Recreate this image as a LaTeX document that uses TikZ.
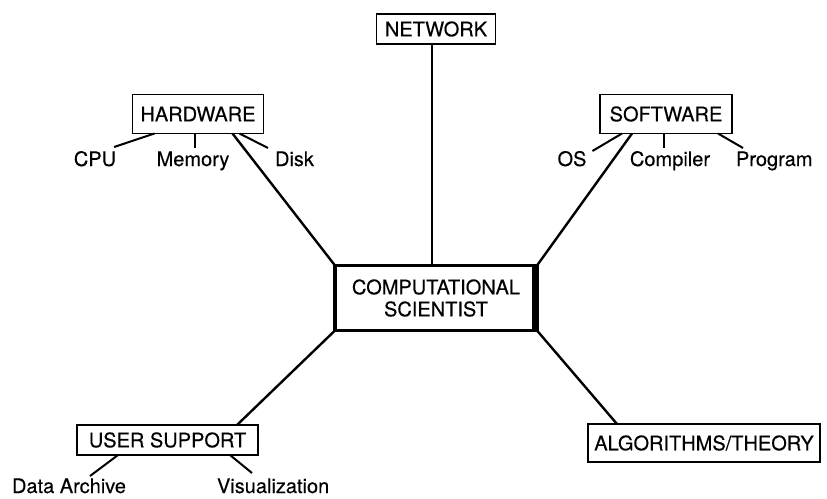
\documentclass[tikz,border=0pt]{standalone}
\usepackage{fontspec}
\setmainfont[FakeBold=0.3]{TeX Gyre Heros}
\usetikzlibrary{calc}
\tikzset{
  box/.style={draw, line width=1.6pt, inner sep=0pt, outer sep=0pt,
    font=\fontsize{20}{22}\selectfont, align=center},
  hub/.style={box, line width=3.5pt},
  lbl/.style={inner sep=0pt, outer sep=0pt, font=\fontsize{20}{22}\selectfont},
  link/.style={line width=2.4pt},
  sublink/.style={line width=2pt}
}
\begin{document}
\begin{tikzpicture}[x=1pt, y=-1pt]
\useasboundingbox (0,0) rectangle (827,498);

% boxes
\node[box, minimum width=119pt, minimum height=30pt] (net) at (436,29) {NETWORK};
\node[box, minimum width=131pt, minimum height=39pt] (hw) at (198,114) {HARDWARE};
\node[box, minimum width=132pt, minimum height=39pt] (sw) at (666,114) {SOFTWARE};
\node[hub, minimum width=202pt, minimum height=65pt] (cs) at (436,298) {COMPUTATIONAL\\SCIENTIST};
\node[box, minimum width=181pt, minimum height=30pt] (us) at (167.5,440) {USER SUPPORT};
\node[box, minimum width=232pt, minimum height=38pt] (alg) at (704,443) {ALGORITHMS/THEORY};

% heavier right edge of the central box
\draw[line width=7pt] ($(cs.north east)+(-1.75,0)$) -- ($(cs.south east)+(-1.75,0)$);

% labels
\node[lbl, anchor=base] (cpu) at (95,166) {CPU};
\node[lbl, anchor=base] (mem) at (193,166) {Memory};
\node[lbl, anchor=base west] (disk) at (275,166) {Disk};
\node[lbl, anchor=base] (os) at (572,166) {OS};
\node[lbl, anchor=base] (comp) at (670,166) {Compiler};
\node[lbl, anchor=base west] (prog) at (736,166) {Program};
\node[lbl, anchor=base] (da) at (69,493) {Data Archive};
\node[lbl, anchor=base west] (vis) at (217,493) {Visualization};

% main connectors
\coordinate (nb) at ($(net.south)+(-4,0)$);
\draw[link] (nb) -- (nb |- cs.north);
\draw[link] ($(hw.south east)+(-31,0)$) -- (cs.north west);
\draw[link] ($(sw.south west)+(32,0)$) -- (cs.north east);
\draw[link] (cs.south west) -- ($(us.north east)+(-21,0)$);
\draw[link] (cs.south east) -- ($(alg.north west)+(29,0)$);

% hardware parts
\draw[sublink] ($(hw.south west)+(22,0)$) -- ($(cpu.base east)+(-2,-19)$);
\draw[sublink] ($(hw.south west)+(62,0)$) -- ($(hw.south west)+(62,14)$);
\draw[sublink] ($(hw.south west)+(107,0)$) -- ($(disk.base west)+(-7,-18)$);

% software parts
\draw[sublink] ($(sw.south west)+(22,0)$) -- ($(os.base east)+(6,-15)$);
\draw[sublink] ($(sw.south west)+(64,0)$) -- ($(sw.south west)+(64,14)$);
\draw[sublink] ($(sw.south west)+(118,0)$) -- ($(prog.base west)+(7,-18)$);

% user support parts
\draw[sublink] ($(us.south west)+(41,0)$) -- ($(da.base)+(21,-17)$);
\draw[sublink] ($(us.south west)+(153,0)$) -- ($(vis.base west)+(35,-20)$);
\end{tikzpicture}
\end{document}
